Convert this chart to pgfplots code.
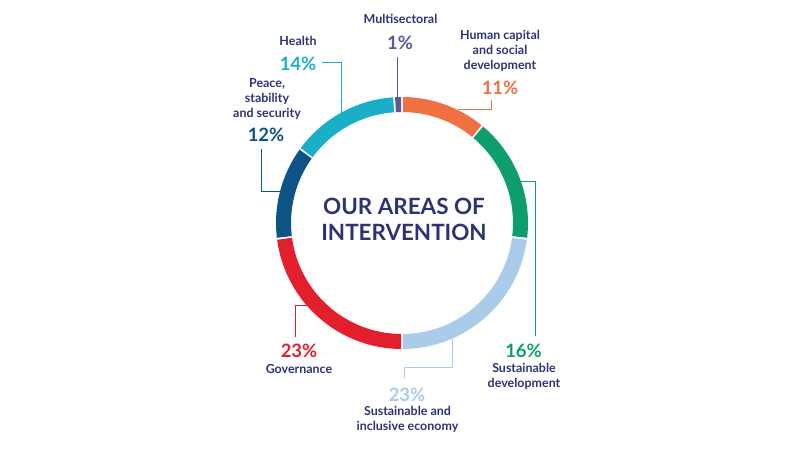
\documentclass[border=0pt]{standalone}
\usepackage{pgfplots}
\usepackage{pgfplotstable}
\pgfplotsset{compat=1.18}
\usepackage{fontspec}
\setmainfont{Lato}
\definecolor{cOrange}{HTML}{EF7041}
\definecolor{cGreen}{HTML}{0E9E6E}
\definecolor{cLight}{HTML}{AACBE9}
\definecolor{cRed}{HTML}{E31E2D}
\definecolor{cDark}{HTML}{0D5386}
\definecolor{cCyan}{HTML}{1AAFC6}
\definecolor{cPurple}{HTML}{5B5A99}
\definecolor{cNavy}{HTML}{2D3274}

% share of each area, clockwise from 12 o'clock
\pgfplotstableread{
pct col
11 cOrange
16 cGreen
23 cLight
23 cRed
12 cDark
14 cCyan
1 cPurple
}\donut

\begin{document}
\begin{tikzpicture}
\begin{axis}[x=1bp,y=1bp,xmin=0,xmax=792,ymin=0,ymax=450,y dir=reverse,
  hide axis,clip=false]
\path (rel axis cs:0,0) rectangle (rel axis cs:1,1);
\pgfplotstablegetrowsof{\donut}
\pgfmathtruncatemacro{\N}{\pgfplotsretval-1}
\def\cum{90}
\pgfplotsforeachungrouped \i in {0,...,\N}{%
  \pgfplotstablegetelem{\i}{pct}\of\donut \let\p\pgfplotsretval
  \pgfplotstablegetelem{\i}{col}\of\donut \let\c\pgfplotsretval
  \pgfmathsetmacro{\e}{\cum-3.6*\p}%
  \pgfmathsetmacro{\a}{\cum-0.45}%
  \pgfmathsetmacro{\b}{\e+0.45}%
  \edef\temp{\noexpand\fill[\c,shift={(axis cs:402,223)}] (\a:126bp) arc[start angle=\a,end angle=\b,radius=126bp] -- (\b:111bp) arc[start angle=\b,end angle=\a,radius=111bp] -- cycle;}%
  \temp
  \global\let\cum\e
}
% leader lines
\begin{scope}[line width=1bp]
\draw[cPurple] (axis cs:397.7,97) -- (axis cs:397.7,57);
\draw[cCyan] (axis cs:341,113) -- (axis cs:341,63) -- (axis cs:322,63);
\draw[cOrange] (axis cs:458,110) -- (axis cs:491,110) -- (axis cs:491,100);
\draw[cDark] (axis cs:280,192) -- (axis cs:261,192) -- (axis cs:261,149);
\draw[cGreen] (axis cs:521,182) -- (axis cs:535,182) -- (axis cs:535,336);
\draw[cRed] (axis cs:307,306) -- (axis cs:295,306) -- (axis cs:295,337);
\draw[cLight] (axis cs:452,339) -- (axis cs:452,367) -- (axis cs:404,367) -- (axis cs:404,378);
\end{scope}
% labels
\tikzset{lab/.style={text=cNavy,font=\fontsize{12.5}{15}\selectfont\bfseries,align=center,inner sep=0pt},
  pc/.style={font=\fontsize{18.5}{20}\selectfont\bfseries,inner sep=0pt}}
\node[lab] at (axis cs:400.5,19) {Multisectoral};
\node[pc,text=cPurple] at (axis cs:400,43) {1\%};
\node[lab] at (axis cs:298,41) {Health};
\node[pc,text=cCyan] at (axis cs:298,64) {14\%};
\node[lab] at (axis cs:500,50.5) {Human capital\\and social\\development};
\node[pc,text=cOrange] at (axis cs:500,88) {11\%};
\node[lab] at (axis cs:267,99) {Peace,\\stability\\and security};
\node[pc,text=cDark] at (axis cs:266,135) {12\%};
\node[pc,text=cRed] at (axis cs:299,351) {23\%};
\node[lab] at (axis cs:299,369) {Governance};
\node[pc,text=cGreen] at (axis cs:523.5,351) {16\%};
\node[lab] at (axis cs:524,376) {Sustainable\\development};
\node[pc,text=cLight] at (axis cs:407,395) {23\%};
\node[lab] at (axis cs:407.5,419.5) {Sustainable and\\inclusive economy};
\node[text=cNavy,font=\fontsize{22.5}{26}\selectfont\bfseries,align=center,inner sep=0pt] at (axis cs:404,219.5) {OUR AREAS OF\\INTERVENTION};
\end{axis}
\end{tikzpicture}
\end{document}
